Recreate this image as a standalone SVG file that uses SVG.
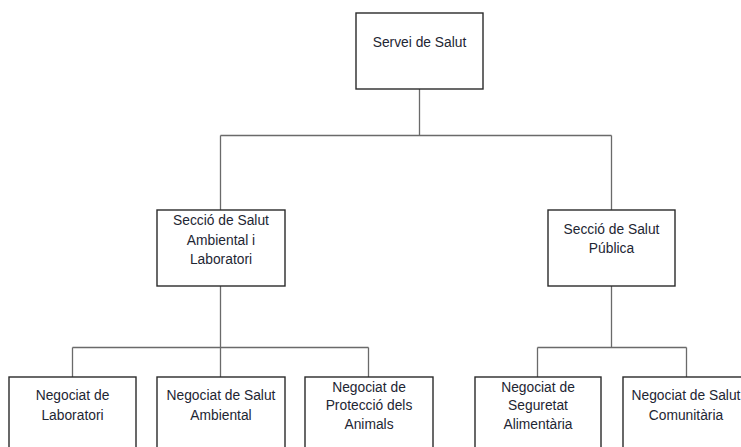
<svg xmlns="http://www.w3.org/2000/svg" width="741" height="447" viewBox="0 0 741 447">
<style>
.box{fill:#fff;stroke:#2a2a2a;stroke-width:1.4}
.con{fill:none;stroke:#6a6a6a;stroke-width:1.3}
text{font-family:"Liberation Sans",Arial,sans-serif;font-size:13.8px;fill:#1e2633;text-anchor:middle}
</style>
<rect width="741" height="447" fill="#fff"/>
<g id="connectors">
<path class="con" d="M419.5 89V135.5M220.5 135.5H611.5M220.5 135.5V210M611.5 135.5V210"/>
<path class="con" d="M220.5 286V347.5M72.5 347.5H368.5M72.5 347.5V377M220.5 347.5V377M368.5 347.5V377"/>
<path class="con" d="M611.5 286V347.5M537.5 347.5H686.5M537.5 347.5V377M686.5 347.5V377"/>
</g>
<g id="servei"><rect class="box" x="356" y="13" width="127" height="76"/><text x="419.5" y="47">Servei de Salut</text></g>
<g id="seccio-ambiental"><rect class="box" x="157" y="210" width="128" height="76"/><text x="221" y="225">Secció de Salut</text><text x="221" y="245">Ambiental i</text><text x="221" y="264">Laboratori</text></g>
<g id="seccio-publica"><rect class="box" x="548" y="210" width="127" height="76"/><text x="611.5" y="234">Secció de Salut</text><text x="611.5" y="253">Pública</text></g>
<g id="neg-laboratori"><rect class="box" x="9" y="377" width="127" height="80"/><text x="72.5" y="400">Negociat de</text><text x="72.5" y="420">Laboratori</text></g>
<g id="neg-ambiental"><rect class="box" x="157" y="377" width="128" height="80"/><text x="221" y="400">Negociat de Salut</text><text x="221" y="420">Ambiental</text></g>
<g id="neg-animals"><rect class="box" x="305" y="377" width="128" height="80"/><text x="369" y="391.5">Negociat de</text><text x="369" y="410">Protecció dels</text><text x="369" y="429">Animals</text></g>
<g id="neg-seguretat"><rect class="box" x="475" y="377" width="126" height="80"/><text x="538" y="391.5">Negociat de</text><text x="538" y="410">Seguretat</text><text x="538" y="429">Alimentària</text></g>
<g id="neg-comunitaria"><rect class="box" x="623" y="377" width="127" height="80"/><text x="686" y="400">Negociat de Salut</text><text x="686" y="420">Comunitària</text></g>
</svg>
